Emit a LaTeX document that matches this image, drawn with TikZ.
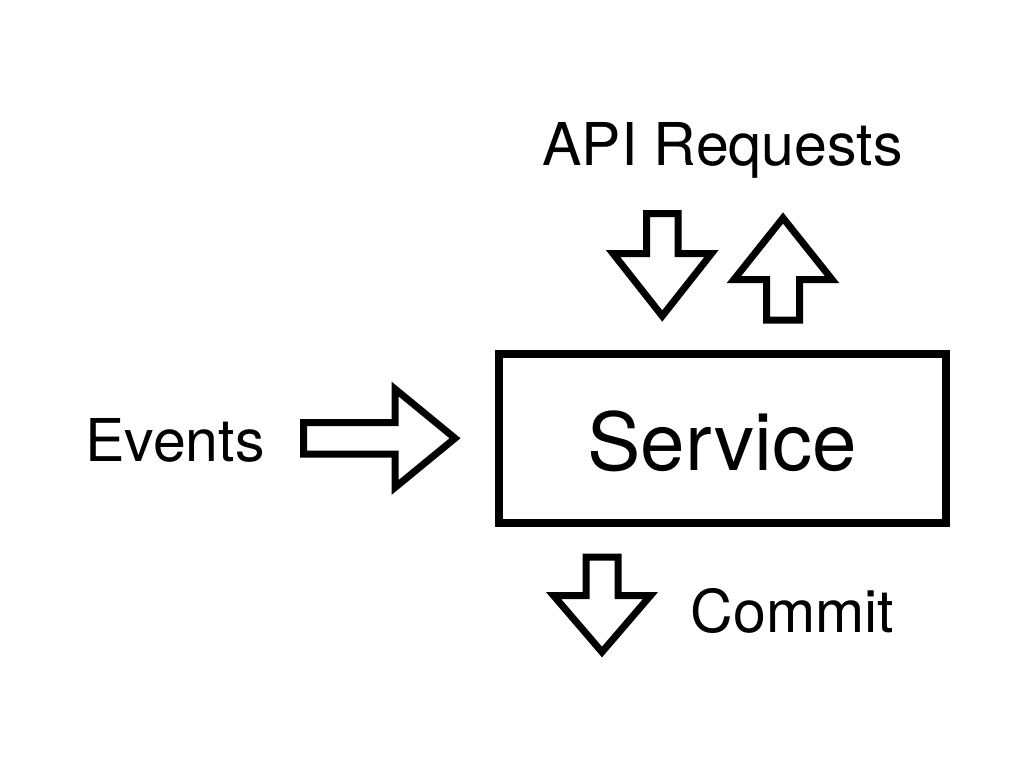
\documentclass[tikz,border=0pt]{standalone}
\usepackage{fontspec}
\setmainfont{TeX Gyre Heros}
\begin{document}
\begin{tikzpicture}[x=1pt,y=-1pt,
  lbl/.style={anchor=base,inner sep=0pt,font=\fontsize{59}{61}\selectfont},
  blockarrow/.style={draw=black,line width=7pt,line join=miter,fill=white},
  servicebox/.style={draw=black,line width=8pt,minimum width=447pt,minimum height=169pt,inner sep=0pt}]
\useasboundingbox (0,0) rectangle (1024,770);
\fill[white] (0,0) rectangle (1024,770);
% service box
\node[servicebox] (service) at (722.5,438.5) {};
\node[lbl,font=\fontsize{80}{82}\selectfont] (servicetxt) at (722,470) {Service};
% labels
\node[lbl] (api) at (722.5,165) {API Requests};
\node[lbl] (events) at (175,461) {Events};
\node[lbl] (commit) at (792.5,632) {Commit};
% Events arrow (right)
\draw[blockarrow] (303.5,422.5) -- (395,422.5) -- (395,389) -- (455,438.25)
  -- (395,487.5) -- (395,454) -- (303.5,454) -- cycle;
% API down arrow
\draw[blockarrow] (646.5,213.5) -- (678,213.5) -- (678,253.5) -- (711.5,253.5)
  -- (662.25,316) -- (613,253.5) -- (646.5,253.5) -- cycle;
% API up arrow
\draw[blockarrow] (766.5,320) -- (799.5,320) -- (799.5,279.5) -- (832,279.5)
  -- (783,218) -- (734,279.5) -- (766.5,279.5) -- cycle;
% Commit down arrow
\draw[blockarrow] (586,557) -- (618,557) -- (618,595.5) -- (650.5,595.5)
  -- (602,652) -- (553.5,595.5) -- (586,595.5) -- cycle;
\end{tikzpicture}
\end{document}
